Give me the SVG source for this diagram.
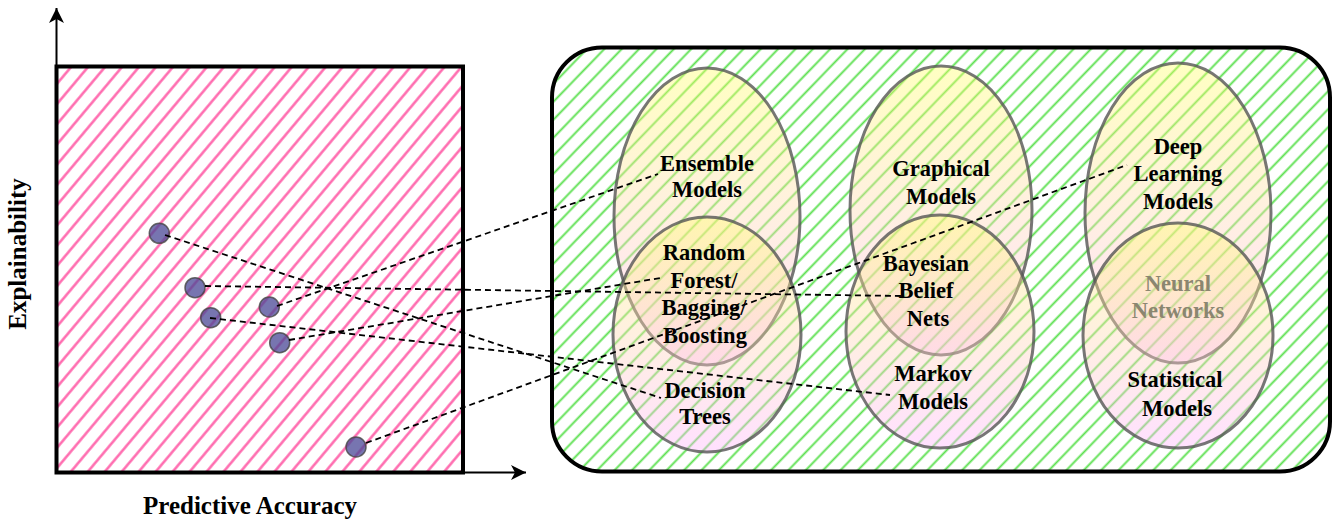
<svg xmlns="http://www.w3.org/2000/svg" width="1336" height="519" viewBox="0 0 1336 519">
<defs>
<style>
.lbl{font-family:"Liberation Serif","Times New Roman",serif;font-weight:bold;font-size:22.5px;fill:#000;text-anchor:middle}
.axl{font-family:"Liberation Serif","Times New Roman",serif;font-weight:bold;font-size:25px;fill:#000;text-anchor:middle}
.ell{fill:url(#eg);stroke:#555;stroke-opacity:.8;stroke-width:3}
.pt{fill:#4a4796;fill-opacity:.75;stroke:#444;stroke-opacity:.8;stroke-width:1.5}
.con{fill:none;stroke:#000;stroke-width:1.8;stroke-dasharray:6 4}
.axis{fill:none;stroke:#000;stroke-width:2}
</style>
<pattern id="pinkHatch" patternUnits="userSpaceOnUse" width="13" height="20" patternTransform="rotate(40)">
<line x1="6.5" y1="-1" x2="6.5" y2="21" stroke="#ff63aa" stroke-width="2.4"/>
</pattern>
<pattern id="greenHatch" patternUnits="userSpaceOnUse" width="12.5" height="20" patternTransform="rotate(44)">
<line x1="6.25" y1="-1" x2="6.25" y2="21" stroke="#5ce050" stroke-width="1.9"/>
</pattern>
<linearGradient id="eg" x1="0" y1="0" x2="0" y2="1">
<stop offset="0" stop-color="#ffff66" stop-opacity=".4"/>
<stop offset="1" stop-color="#ffb3ff" stop-opacity=".4"/>
</linearGradient>
<marker id="arr" markerUnits="userSpaceOnUse" markerWidth="16" markerHeight="16" viewBox="0 -8 16 16" refX="15" refY="0" orient="auto">
<path d="M0,-7.5 L15,0 L0,7.5 L4,0 Z" fill="#000"/>
</marker>
</defs>
<rect width="1336" height="519" fill="#fff"/>

<g id="plot">
<rect x="56.5" y="66.5" width="406.5" height="406" fill="url(#pinkHatch)" stroke="#000" stroke-width="4"/>
<line class="axis" x1="56.5" y1="470" x2="56.5" y2="8" marker-end="url(#arr)"/>
<line class="axis" x1="60" y1="472.5" x2="526" y2="472.5" marker-end="url(#arr)"/>
<text class="axl" x="250" y="514">Predictive Accuracy</text>
<text class="axl" transform="translate(26,254) rotate(-90)">Explainability</text>
</g>

<g id="models-panel">
<rect x="552" y="47.5" width="778" height="424" rx="50" ry="50" fill="url(#greenHatch)" stroke="#000" stroke-width="4"/>
</g>

<g id="ensemble-models">
<ellipse class="ell" cx="707" cy="216.5" rx="93" ry="148.5"/>
<text class="lbl" x="707" y="171">Ensemble</text>
<text class="lbl" x="707" y="197">Models</text>
</g>
<g id="decision-trees">
<ellipse class="ell" cx="707" cy="334.5" rx="94" ry="117.5"/>
<text class="lbl" x="705" y="397.5">Decision</text>
<text class="lbl" x="705" y="423.5">Trees</text>
</g>
<g id="random-forest">
<text class="lbl" x="704" y="260">Random</text>
<text class="lbl" x="704" y="287.5">Forest/</text>
<text class="lbl" x="704" y="314.5">Bagging/</text>
<text class="lbl" x="705" y="342.5">Boosting</text>
</g>

<g id="graphical-models">
<ellipse class="ell" cx="941" cy="210.5" rx="91" ry="144.5"/>
<text class="lbl" x="941" y="176">Graphical</text>
<text class="lbl" x="941" y="204">Models</text>
</g>
<g id="markov-models">
<ellipse class="ell" cx="940" cy="331.5" rx="94" ry="116.5"/>
<text class="lbl" x="933" y="381">Markov</text>
<text class="lbl" x="933" y="408.5">Models</text>
</g>
<g id="bayesian-belief-nets">
<text class="lbl" x="926" y="271">Bayesian</text>
<text class="lbl" x="926" y="297.5">Belief</text>
<text class="lbl" x="928" y="326">Nets</text>
</g>

<g id="deep-learning-models">
<ellipse class="ell" cx="1178" cy="213" rx="93" ry="150"/>
<text class="lbl" x="1178" y="154">Deep</text>
<text class="lbl" x="1178" y="181">Learning</text>
<text class="lbl" x="1178" y="208.5">Models</text>
</g>
<g id="statistical-models">
<ellipse class="ell" cx="1178" cy="335.5" rx="95" ry="112.5"/>
<text class="lbl" x="1175" y="387">Statistical</text>
<text class="lbl" x="1177" y="416">Models</text>
</g>
<g id="neural-networks">
<text class="lbl" x="1178" y="291" style="fill:#8b8670">Neural</text>
<text class="lbl" x="1178" y="317.5" style="fill:#8b8670">Networks</text>
</g>

<g id="points">
<circle class="pt" cx="159.3" cy="233.3" r="10"/>
<circle class="pt" cx="195" cy="287.7" r="10"/>
<circle class="pt" cx="269.3" cy="307" r="10"/>
<circle class="pt" cx="210.7" cy="317.7" r="10"/>
<circle class="pt" cx="279.7" cy="342.7" r="10"/>
<circle class="pt" cx="356" cy="447" r="10"/>
</g>

<g id="connectors">
<line class="con" x1="165" y1="235" x2="661" y2="398"/>
<line class="con" x1="205" y1="286" x2="901" y2="296"/>
<line class="con" x1="277" y1="306" x2="658" y2="174"/>
<line class="con" x1="210" y1="318" x2="890" y2="395"/>
<line class="con" x1="289" y1="340" x2="660" y2="278"/>
<line class="con" x1="366" y1="443" x2="1127" y2="165"/>
</g>
</svg>
